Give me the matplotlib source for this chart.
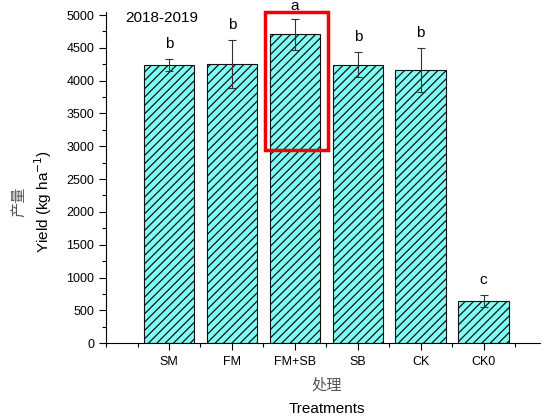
import numpy as np
import matplotlib.pyplot as plt
from matplotlib.patches import Rectangle
from matplotlib.ticker import MultipleLocator

plt.rcParams['font.family'] = ['Liberation Sans', 'DejaVu Sans']
plt.rcParams['hatch.linewidth'] = 0.9

treatments = ['SM', 'FM', 'FM+SB', 'SB', 'CK', 'CK0']
yields = [4235, 4255, 4705, 4245, 4160, 645]
errors = [90, 360, 235, 190, 340, 90]
letters = ['b', 'b', 'a', 'b', 'b', 'c']

x = np.arange(1, len(treatments) + 1)

fig = plt.figure(figsize=(5.44, 4.2), dpi=100)
ax = fig.add_axes([0.195, 0.183, 0.798, 0.789])

ax.bar(x, yields, width=0.8, color='#80FFF4', edgecolor='#111111', linewidth=0.8,
       hatch='////', yerr=errors, capsize=3,
       error_kw=dict(ecolor='#333333', elinewidth=0.8, capthick=0.8))

for xi, y, e, l in zip(x, yields, errors, letters):
    ax.text(xi, min(y + e + 120, 5030), l, ha='center', va='bottom', fontsize=11)

ax.set_xlim(0, 6.9)
ax.set_ylim(0, 5050)
ax.set_xticks(x)
ax.set_xticklabels(treatments, fontsize=9)
ax.xaxis.set_minor_locator(MultipleLocator(0.5))
ax.set_yticks(np.arange(0, 5001, 500))
ax.yaxis.set_minor_locator(MultipleLocator(250))
ax.tick_params(axis='both', which='major', labelsize=9, length=5, width=0.8)
ax.tick_params(axis='both', which='minor', length=3, width=0.8)
ax.tick_params(axis='x', which='major', pad=4)
ax.spines['top'].set_visible(False)
ax.spines['right'].set_visible(False)

ax.text(0.3, 4960, '2018-2019', fontsize=11, va='center')

# highlight box around FM+SB
ax.add_patch(Rectangle((2.52, 2940), 1.0, 2110, fill=False, edgecolor='#F00000',
                       linewidth=2.5, clip_on=False, zorder=5))

fig.text(0.037, 0.52, '产量', rotation=90, fontsize=11, color='#555555',
         family=['Noto Sans CJK SC'], ha='center', va='center')
fig.text(0.08, 0.52, 'Yield (kg ha$^{-1}$)', rotation=90, fontsize=11,
         ha='center', va='center')
fig.text(0.6, 0.083, '处理', fontsize=11, color='#555555',
         family=['Noto Sans CJK SC'], ha='center', va='center')
fig.text(0.6, 0.027, 'Treatments', fontsize=11, ha='center', va='center')

fig.savefig('out.png', dpi=100)
